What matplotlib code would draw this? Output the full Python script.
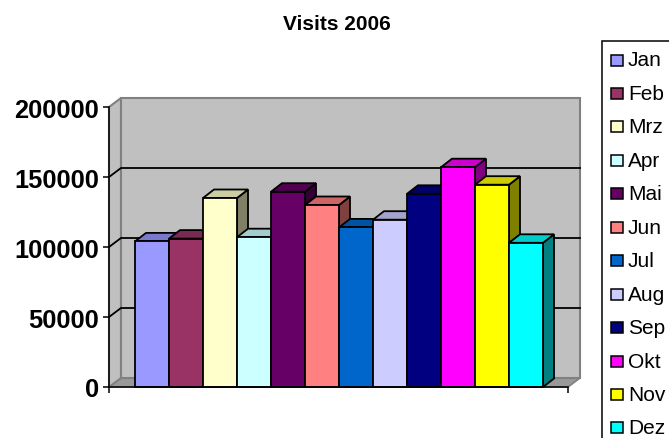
import matplotlib.pyplot as plt
from matplotlib.colors import to_rgb
from matplotlib.patches import Polygon, Rectangle

months = ["Jan", "Feb", "Mrz", "Apr", "Mai", "Jun", "Jul", "Aug", "Sep", "Okt", "Nov", "Dez"]
visits = [104000, 106000, 135000, 107000, 139500, 130000,
          114000, 119500, 138000, 157000, 144500, 103000]
colors = ["#9999FF", "#993366", "#FFFFCC", "#CCFFFF", "#660066", "#FF8080",
          "#0066CC", "#CCCCFF", "#000080", "#FF00FF", "#FFFF00", "#00FFFF"]
yticks = [0, 50000, 100000, 150000, 200000]
title = "Visits 2006"

plt.rcParams["font.family"] = ["Liberation Sans", "DejaVu Sans"]

W, H = 669, 439
fig = plt.figure(figsize=(W / 100, H / 100), dpi=100)

# front plane of the plot area, in pixels
left, right, bottom, top = 109, 568, 388, 108
ax = fig.add_axes([left / W, 1 - bottom / H, (right - left) / W, (bottom - top) / H])
x0, x1 = -0.765, 12.735
ymax = yticks[-1]
ax.set_xlim(x0, x1)
ax.set_ylim(0, ymax)

# pixel -> data conversions for the fake depth
px_x = (x1 - x0) / (right - left)
px_y = ymax / (bottom - top)
wall_dx, wall_dy = 12 * px_x, 9 * px_y
bar_dx, bar_dy = 11 * px_x, 8.5 * px_y


def shade(c, k):
    r, g, b = to_rgb(c)
    return (r * k, g * k, b * k)


wall_kw = dict(facecolor="#C0C0C0", edgecolor="#808080", linewidth=1.5, clip_on=False)

# floor, left wall and back wall
ax.add_patch(Polygon([(x0, 0), (x1, 0), (x1 + wall_dx, wall_dy), (x0 + wall_dx, wall_dy)],
                     closed=True, facecolor="#999999", edgecolor="#808080",
                     linewidth=1.2, clip_on=False, zorder=1))
ax.add_patch(Polygon([(x0, 0), (x0 + wall_dx, wall_dy), (x0 + wall_dx, ymax + wall_dy),
                      (x0, ymax)], closed=True, zorder=1, **wall_kw))
ax.add_patch(Rectangle((x0 + wall_dx, wall_dy), x1 - x0, ymax, zorder=1, **wall_kw))

# gridlines on the walls
for v in yticks[1:-1]:
    ax.plot([x0, x0 + wall_dx, x1 + wall_dx], [v, v + wall_dy, v + wall_dy],
            color="black", linewidth=1.3, clip_on=False, zorder=2)

# 3D-look columns
for i, (v, c) in enumerate(zip(visits, colors)):
    z = 3 + i * 0.01
    kw = dict(edgecolor="black", linewidth=1.3, clip_on=False, zorder=z, joinstyle="miter")
    ax.add_patch(Polygon([(i + 1, 0), (i + 1 + bar_dx, bar_dy), (i + 1 + bar_dx, v + bar_dy),
                          (i + 1, v)], closed=True, facecolor=shade(c, 0.5), **kw))
    ax.add_patch(Polygon([(i, v), (i + 1, v), (i + 1 + bar_dx, v + bar_dy),
                          (i + bar_dx, v + bar_dy)], closed=True, facecolor=shade(c, 0.8), **kw))
    ax.add_patch(Rectangle((i, 0), 1, v, facecolor=c, **kw))

for side in ["top", "right"]:
    ax.spines[side].set_visible(False)
for side in ["left", "bottom"]:
    ax.spines[side].set_linewidth(1.1)
    ax.spines[side].set_zorder(10)

ax.set_yticks(yticks)
ax.set_yticklabels([str(t) for t in yticks], fontweight="bold")
ax.tick_params(axis="y", direction="out", length=4.3, width=1.1, pad=2.9, labelsize=18.3)
ax.set_xticks([x0, x1])
ax.set_xticklabels([])
ax.tick_params(axis="x", direction="out", length=4.3, width=1.1)

fig.text(337 / W, 1 - 24.5 / H, title, ha="center", va="center",
         fontsize=15, fontweight="bold")

# legend box, runs off the right and bottom edge
fig.patches.append(Rectangle((602 / W, 1 - 460 / H), 100 / W, (460 - 42) / H,
                             transform=fig.transFigure, facecolor="white",
                             edgecolor="black", linewidth=1.1, clip_on=False))
row0, step = 61, 33.45
for i, (m, c) in enumerate(zip(months, colors)):
    yc = row0 + i * step
    fig.patches.append(Rectangle((611 / W, 1 - (yc + 5.5) / H), 12 / W, 11 / H,
                                 transform=fig.transFigure, facecolor=c,
                                 edgecolor="black", linewidth=1.1))
    fig.text(628 / W, 1 - yc / H, m, ha="left", va="center", fontsize=15)

fig.savefig("out.png", dpi=100)
